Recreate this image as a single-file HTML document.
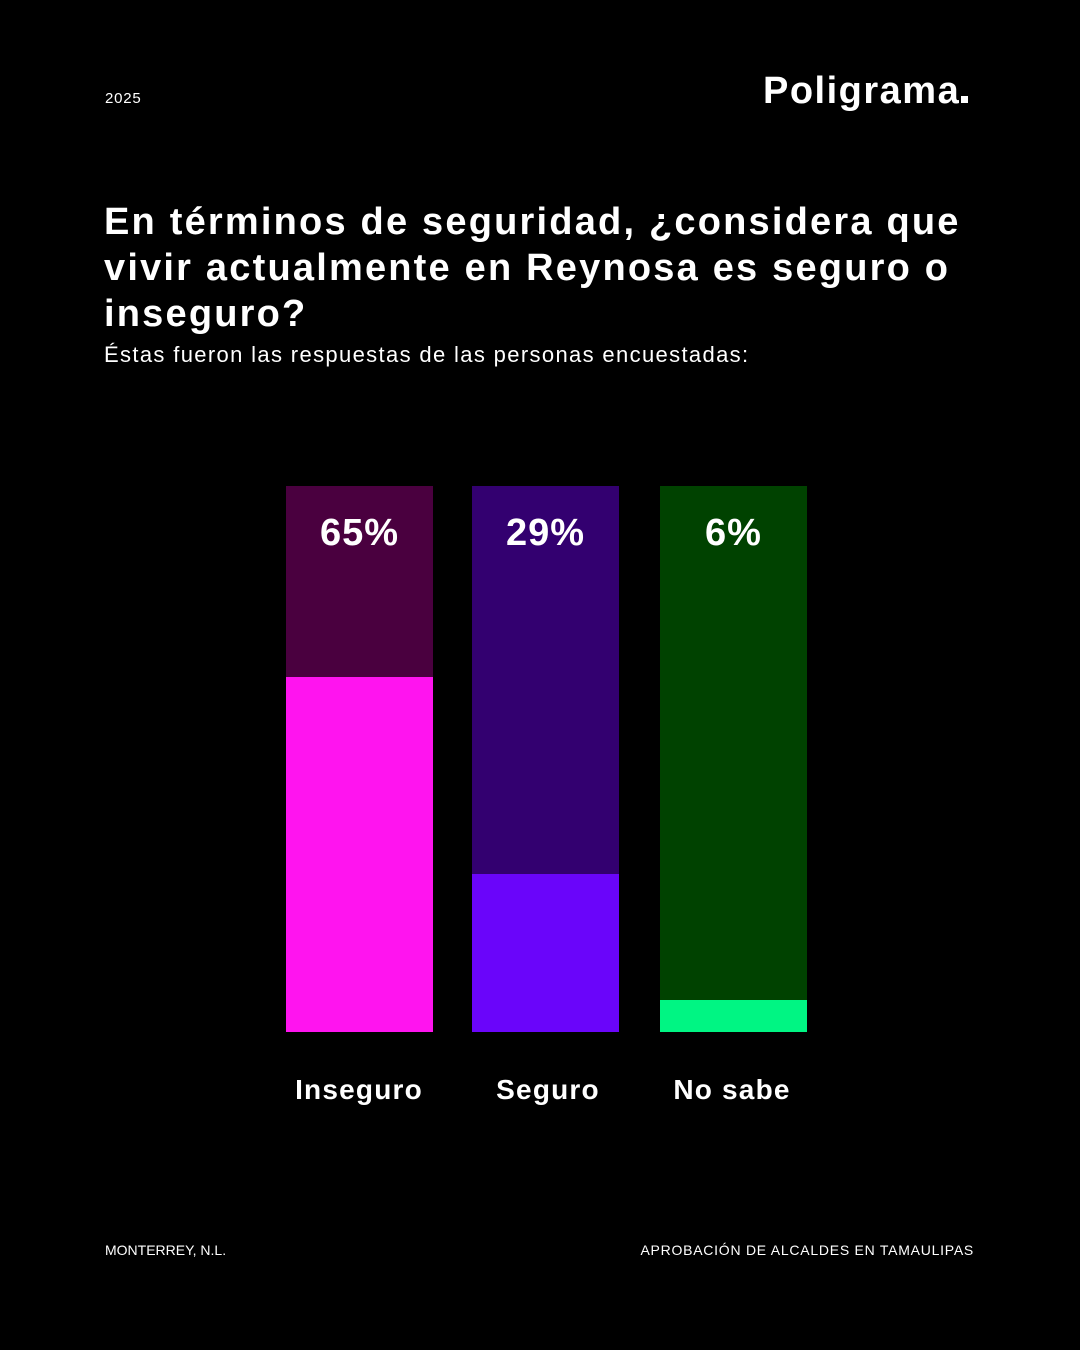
<!DOCTYPE html>
<html><head><meta charset="utf-8"><style>
body{margin:0;width:1080px;height:1350px;background:#000;position:relative;font-family:"Liberation Sans",sans-serif;color:#fff;overflow:hidden}
.a{position:absolute;white-space:nowrap}
.bar{position:absolute;top:486px;width:147px;height:546px}
.fill{position:absolute;left:0;bottom:0;width:100%}
.pct{position:absolute;top:512px;width:147px;text-align:center;font-weight:bold;font-size:38px;letter-spacing:1px}
.lbl{position:absolute;top:1074px;width:200px;text-align:center;font-weight:bold;font-size:28px;letter-spacing:1.2px}
</style></head><body>
<div class="a" style="left:105px;top:90px;font-size:15px;letter-spacing:0.8px">2025</div>
<div class="a" style="left:763px;top:70px;font-size:38px;font-weight:bold;letter-spacing:1.5px">Poligrama<span style="display:inline-block;width:7px;height:7px;background:#fff;margin-left:1px"></span></div>
<div class="a" style="left:104px;top:199px;font-size:38px;font-weight:bold;line-height:46px;letter-spacing:2.2px">En términos de seguridad, ¿considera que<br>vivir actualmente en Reynosa es seguro o<br>inseguro?</div>
<div class="a" style="left:104px;top:342px;font-size:22px;letter-spacing:1.35px">Éstas fueron las respuestas de las personas encuestadas:</div>

<div class="bar" style="left:286px;background:#4a003f"><div class="fill" style="height:355px;background:#ff14ef"></div></div>
<div class="bar" style="left:472px;background:#330070"><div class="fill" style="height:158px;background:#6a05fa"></div></div>
<div class="bar" style="left:660px;background:#004200"><div class="fill" style="height:32px;background:#00f583"></div></div>
<div class="pct" style="left:286px">65%</div>
<div class="pct" style="left:472px">29%</div>
<div class="pct" style="left:660px">6%</div>
<div class="lbl" style="left:259px">Inseguro</div>
<div class="lbl" style="left:448px">Seguro</div>
<div class="lbl" style="left:632px">No sabe</div>

<div class="a" style="left:105px;top:1242px;font-size:14px">MONTERREY, N.L.</div>
<div class="a" style="right:106px;top:1242px;font-size:14px;letter-spacing:0.75px">APROBACIÓN DE ALCALDES EN TAMAULIPAS</div>
</body></html>
